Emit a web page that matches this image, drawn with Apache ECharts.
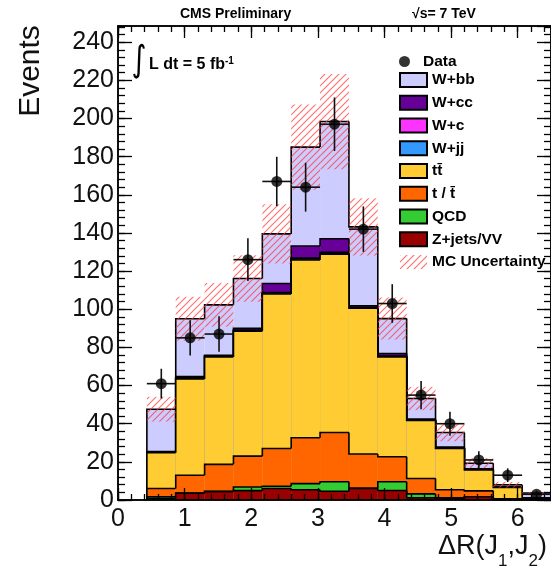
<!DOCTYPE html>
<html><head><meta charset="utf-8">
<script src="https://cdn.jsdelivr.net/npm/echarts@6/dist/echarts.min.js"></script>
<style>html,body{margin:0;padding:0;background:#fff}#c{width:551px;height:571px}</style>
</head><body><div id="c"></div>
<script>
// ---------------- data ----------------
const binLow = [0.4333, 0.8667, 1.3, 1.7333, 2.1667, 2.6, 3.0333, 3.4667, 3.9, 4.3333, 4.7667, 5.2, 5.6333, 6.0667];
const binWidth = 0.4333;
const zjetsVV = [0.9, 3.5, 4.4, 4.9, 6.0, 5.4, 4.6, 6.1, 5.0, 1.2, 1.0, 1.7, 0.3, 0.1];
const qcd     = [0.8, 0.1, 0.1, 1.9, 1.2, 3.2, 5.0, 0.0, 4.6, 2.0, 0.1, 0.0, 0.0, 0.0];
const singleTop = [4.3, 9.4, 14.2, 16.2, 19.8, 24.0, 25.8, 18.0, 13.1, 8.1, 4.3, 3.1, 0.3, 0.3];
const ttbar   = [18.8, 50.5, 56.3, 65.5, 81.0, 93.2, 93.4, 76.4, 52.3, 30.4, 21.6, 11.0, 6.0, 0.6];
const wjj     = [0.2, 0.3, 0.3, 0.3, 0.5, 0.6, 0.6, 0.3, 0.3, 0.2, 0.2, 0.1, 0.1, 0.0];
const wc      = [0.1, 0.2, 0.2, 0.2, 0.3, 0.4, 0.4, 0.2, 0.2, 0.1, 0.1, 0.1, 0.0, 0.0];
const wcc     = [0.3, 0.7, 0.3, 1.0, 4.7, 6.4, 7.2, 0.8, 1.3, 0.4, 0.5, 0.3, 0.3, 0.1];
const wbb     = [22.2, 30.3, 26.5, 26.1, 26.0, 51.8, 61.4, 41.4, 18.3, 10.8, 7.6, 3.0, 1.0, 2.6];
const mcUncertainty = [6.5, 11.5, 11.5, 12.2, 15.5, 22.3, 25.0, 15.0, 11.0, 6.1, 4.6, 2.7, 1.5, 0.6];
const dataCounts = [61, 85, 87, 126, 167, 164, 197, 142, 103, 55, 40, 21, 13, 3];
const xTickLabels = ['0', '1', '2', '3', '4', '5', '6'];
const yTickLabels = ['0', '20', '40', '60', '80', '100', '120', '140', '160', '180', '200', '220', '240'];
const xMax = 6.5, yMax = 248.5;

// ---------------- build ----------------
const layers = [ // bottom-up
  { name: 'Z+jets/VV', vals: zjetsVV, color: '#990000' },
  { name: 'QCD', vals: qcd, color: '#33cc33' },
  { name: 't / t\u0304', vals: singleTop, color: '#ff6600' },
  { name: 'tt\u0304', vals: ttbar, color: '#ffcc33' },
  { name: 'W+jj', vals: wjj, color: '#3399ff' },
  { name: 'W+c', vals: wc, color: '#ff33ff' },
  { name: 'W+cc', vals: wcc, color: '#660099' },
  { name: 'W+bb', vals: wbb, color: '#ccccff' }
];
let running = binLow.map(() => 0);
layers.forEach(l => { running = running.map((r, i) => r + l.vals[i]); l.cum = running.slice(); });
const total = running;

function hatchCanvas() {
  const s = 7, c = document.createElement('canvas');
  c.width = s; c.height = s;
  const g = c.getContext('2d');
  g.strokeStyle = 'rgba(255,60,60,0.75)';
  g.lineWidth = 1.1;
  g.beginPath();
  g.moveTo(0, s); g.lineTo(s, 0);
  g.moveTo(-1, 1); g.lineTo(1, -1);
  g.moveTo(s - 1, s + 1); g.lineTo(s + 1, s - 1);
  g.stroke();
  return c;
}
const hatchFill = { image: hatchCanvas(), repeat: 'repeat' };

function layerSeries(l) {
  const n = l.cum.length;
  return {
    type: 'custom', name: l.name, z: 2,
    itemStyle: { color: l.color, borderColor: '#000', borderWidth: 1.5 },
    encode: { x: [0, 1], y: 2 },
    data: l.cum.map((v, i) => [binLow[i], binLow[i] + binWidth, v, i > 0 ? l.cum[i - 1] : 0, i === n - 1 ? 1 : 0]),
    renderItem: (params, api) => {
      const x0 = api.value(0), x1 = api.value(1), top = api.value(2), prev = api.value(3), last = api.value(4);
      const pb = api.coord([x0, 0]), pt = api.coord([x1, top]);
      const pts = [api.coord([x0, prev]), api.coord([x0, top]), pt];
      if (last) pts.push(api.coord([x1, 0]));
      return { type: 'group', children: [
        { type: 'rect', shape: { x: pb[0], y: pt[1], width: pt[0] - pb[0], height: pb[1] - pt[1] }, style: { fill: l.color } },
        { type: 'polyline', shape: { points: pts }, style: { stroke: '#000', lineWidth: 1.6, fill: null } }
      ] };
    }
  };
}

const series = [];
layers.slice().reverse().forEach(l => series.push(layerSeries(l)));
series.push({
  type: 'custom', name: 'MC Uncertainty', z: 3,
  itemStyle: { color: hatchFill, borderWidth: 0 },
  encode: { x: [0, 1], y: [2, 3] },
  data: total.map((t, i) => [binLow[i], binLow[i] + binWidth, t - mcUncertainty[i], t + mcUncertainty[i]]),
  renderItem: (params, api) => {
    const a = api.coord([api.value(0), api.value(2)]), b = api.coord([api.value(1), api.value(3)]);
    return { type: 'rect', shape: { x: a[0], y: b[1], width: b[0] - a[0], height: a[1] - b[1] }, style: { fill: hatchFill } };
  }
});
series.push({
  type: 'custom', name: 'errors', z: 20,
  encode: { x: [0, 2, 3], y: 1 },
  data: dataCounts.map((d, i) => [binLow[i] + binWidth / 2, d, binLow[i], binLow[i] + binWidth, Math.sqrt(d)]),
  renderItem: (params, api) => {
    const xc = api.value(0), y = api.value(1), e = api.value(4);
    const h0 = api.coord([api.value(2), y]), h1 = api.coord([api.value(3), y]);
    const v0 = api.coord([xc, y - e]), v1 = api.coord([xc, y + e]);
    return { type: 'group', children: [
      { type: 'line', shape: { x1: h0[0], y1: h0[1], x2: h1[0], y2: h1[1] }, style: { stroke: '#111', lineWidth: 1.6 } },
      { type: 'line', shape: { x1: v0[0], y1: v0[1], x2: v1[0], y2: v1[1] }, style: { stroke: '#111', lineWidth: 1.6 } }
    ] };
  }
});
series.push({
  type: 'scatter', name: 'Data', z: 21, symbol: 'circle', symbolSize: 11,
  itemStyle: { color: '#000' },
  data: dataCounts.map((d, i) => [binLow[i] + binWidth / 2, d])
});

const font = '"Liberation Sans", Arial, Helvetica, sans-serif';
const tickStyle = { color: '#000', width: 1.3 };
function xAx(pos, interval, len, labels) {
  return {
    type: 'value', min: 0, max: xMax, interval: interval, position: pos, z: 10,
    axisLine: { show: true, onZero: false, lineStyle: { color: '#000', width: 1.5 } },
    axisTick: { show: true, inside: true, length: len, lineStyle: tickStyle },
    axisLabel: labels ? { show: true, fontSize: 25, fontFamily: font, color: '#111', margin: 7, showMaxLabel: false,
      formatter: v => xTickLabels.indexOf(String(v)) >= 0 ? String(v) : '' } : { show: false },
    splitLine: { show: false }
  };
}
function yAx(pos, interval, len, labels) {
  return {
    type: 'value', min: 0, max: yMax, interval: interval, position: pos, z: 10,
    axisLine: { show: true, onZero: false, lineStyle: { color: '#000', width: 1.5 } },
    axisTick: { show: true, inside: true, length: len, lineStyle: tickStyle },
    axisLabel: labels ? { show: true, fontSize: 25, fontFamily: font, color: '#111', margin: 4, showMaxLabel: false,
      formatter: v => yTickLabels.indexOf(String(v)) >= 0 ? String(v) : '' } : { show: false },
    splitLine: { show: false }
  };
}

const chart = echarts.init(document.getElementById('c'), null, { renderer: 'canvas' });
chart.setOption({
  animation: false,
  backgroundColor: '#fff',
  grid: { left: 118, right: -5, top: 26, bottom: 71, containLabel: false },
  xAxis: [xAx('bottom', 1, 12, true), xAx('bottom', 0.2, 6, false), xAx('top', 1, 12, false), xAx('top', 0.2, 6, false)],
  yAxis: [yAx('left', 20, 14, true), yAx('left', 4, 7, false), yAx('right', 20, 14, false), yAx('right', 4, 7, false)],
  legend: [
    { data: ['Data'], left: 399, top: 53.5, orient: 'vertical', itemWidth: 27, itemHeight: 11, padding: 0,
      selectedMode: false, icon: 'circle',
      textStyle: { fontFamily: font, fontWeight: 'bold', fontSize: 15.5, color: '#000', lineHeight: 11 } },
    { data: ['W+bb', 'W+cc', 'W+c', 'W+jj', 'tt\u0304', 't / t\u0304', 'QCD', 'Z+jets/VV', 'MC Uncertainty'],
      left: 399, top: 72, orient: 'vertical', itemWidth: 27, itemHeight: 14, itemGap: 6.75, padding: 0,
      selectedMode: false, icon: 'rect',
      textStyle: { fontFamily: font, fontWeight: 'bold', fontSize: 15.5, color: '#000', lineHeight: 14 } }
  ],
  graphic: [
    { type: 'text', x: 180, y: 14, style: { text: 'CMS Preliminary', font: 'bold 14px ' + font, fill: '#000', align: 'left', verticalAlign: 'middle' } },
    { type: 'text', x: 412, y: 14, style: { text: '\u221As= 7 TeV', font: 'bold 14px ' + font, fill: '#000', align: 'left', verticalAlign: 'middle' } },
    { type: 'text', x: 139, y: 62, scaleX: 0.8, style: { text: '\u222B', font: '36px "DejaVu Sans"', fill: '#000', align: 'center', verticalAlign: 'middle' } },
    { type: 'text', x: 149, y: 65, style: { text: '{b|L dt = 5 fb}{s|-1}', align: 'left', verticalAlign: 'middle',
      rich: { b: { font: 'bold 16px ' + font, fill: '#000', lineHeight: 18 }, s: { font: 'bold 10px ' + font, fill: '#000', lineHeight: 10, verticalAlign: 'top' } } } },
    { type: 'text', x: 31, y: 71, rotation: Math.PI / 2, style: { text: 'Events', font: '30px ' + font, fill: '#111', align: 'center', verticalAlign: 'middle' } },
    { type: 'text', x: 438, y: 547, style: { text: '{a|\u0394R(J}{s|1}{a|,J}{s|2}{a|)}', align: 'left', verticalAlign: 'middle',
      rich: { a: { font: '27px ' + font, fill: '#111', lineHeight: 46 }, s: { font: '17px ' + font, fill: '#111', lineHeight: 17, verticalAlign: 'bottom' } } } }
  ],
  series: series
});
</script>
</body></html>
